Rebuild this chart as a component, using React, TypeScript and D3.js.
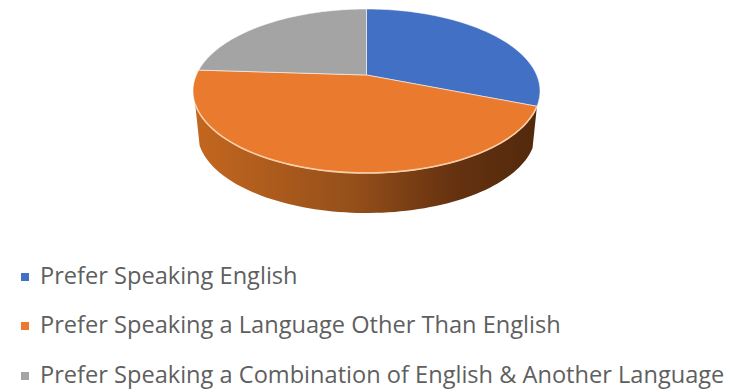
import React from "react";
import * as d3 from "d3";

const categories = [
  "Prefer Speaking English",
  "Prefer Speaking a Language Other Than English",
  "Prefer Speaking a Combination of English & Another Language",
];
const shares = [31, 45, 24];
const sliceColors = ["#4270c4", "#ea7b2e", "#a4a4a4"];
const legendBaselines = [284, 333, 383];

const W = 731;
const H = 392;
const top = { cx: 366.5, cy: 91, rx: 173.5, ry: 82 };
const base = { cx: 366.5, cy: 133, rx: 169, ry: 80 };
// Perspective shift of the pie's centre towards the far edge.
const tilt = 16 / 82;
// The near wall and its bright rim stop a little short of the slice's far end.
const rimStop = (250 * Math.PI) / 180;

const pie = d3.pie<number>().sort(null).startAngle(0).endAngle(2 * Math.PI);
const arcs = pie(shares);

// Projects a unit-circle angle (clockwise from 12 o'clock) on to an ellipse.
function project(a: number, e: typeof top, r = 1): [number, number] {
  const x = r * Math.sin(a);
  const y = -r * Math.cos(a);
  const d = 1 - tilt * y;
  return [
    e.cx + (e.rx * x * Math.sqrt(1 - tilt * tilt)) / d,
    e.cy + (e.ry * (y - tilt)) / d,
  ];
}

function sample(a0: number, a1: number, e: typeof top): [number, number][] {
  return d3.range(0, 81).map((i) => project(a0 + ((a1 - a0) * i) / 80, e));
}

const line = d3.line();

function slicePath(a0: number, a1: number): string {
  return line([project(0, top, 0), ...sample(a0, a1, top)])! + "Z";
}

function wallPath(a0: number, a1: number): string {
  return line([...sample(a0, a1, top), ...sample(a1, a0, base)])! + "Z";
}

export default function App() {
  const rimStart = arcs[1].startAngle;
  return (
    <svg
      width={W}
      height={H}
      viewBox={`0 0 ${W} ${H}`}
      style={{ position: "absolute", left: 0, top: 0, background: "#fff" }}
    >
      <defs>
        <linearGradient id="wall" gradientUnits="userSpaceOnUse" x1={193} x2={540} y1={0} y2={0}>
          <stop offset="0" stopColor="#c4671f" />
          <stop offset="0.45" stopColor="#96501a" />
          <stop offset="0.75" stopColor="#663210" />
          <stop offset="1" stopColor="#51290c" />
        </linearGradient>
      </defs>
      <path d={wallPath(rimStart, rimStop)} fill="url(#wall)" />
      {arcs.map((d, i) => (
        <path
          key={categories[i]}
          d={slicePath(d.startAngle, d.endAngle)}
          fill={sliceColors[i]}
          stroke="#fff"
          strokeOpacity={0.55}
          strokeWidth={1}
          strokeLinejoin="round"
        />
      ))}
      <path
        d={line(sample(rimStart, rimStop, top))!}
        fill="none"
        stroke="#f9cfa9"
        strokeWidth={1.6}
      />
      {categories.map((c, i) => (
        <g key={c}>
          <rect
            x={21}
            y={legendBaselines[i] - 11}
            width={8}
            height={8}
            fill={sliceColors[i]}
          />
          <text
            x={40}
            y={legendBaselines[i]}
            fontFamily="'Open Sans', sans-serif"
            fontSize={23.6}
            fill="#5f5f5f"
          >
            {c}
          </text>
        </g>
      ))}
    </svg>
  );
}
